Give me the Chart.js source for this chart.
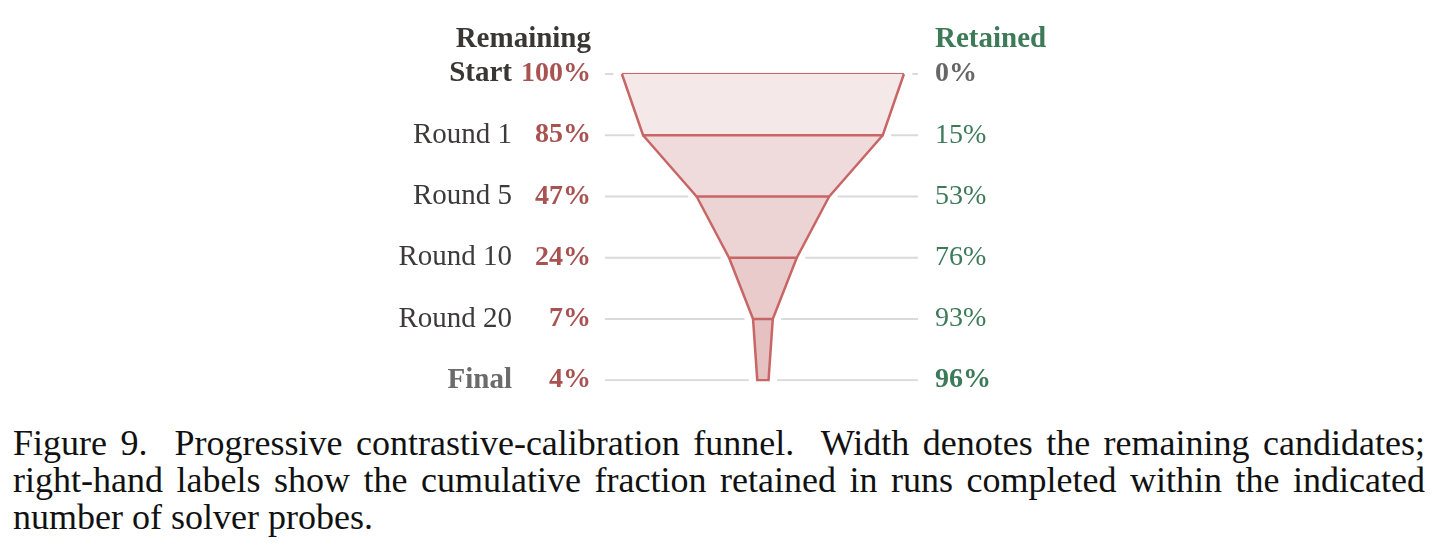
<!DOCTYPE html>
<html>
<head>
    <title>Contrastive-calibration funnel</title>
    <script src="https://cdn.jsdelivr.net/npm/chart.js"></script>
    <style>
        body {
            margin: 0;
            background: #ffffff;
            width: 1446px;
            height: 555px;
            overflow: hidden;
        }
        #wrap {
            position: relative;
            width: 1446px;
            height: 414px;
        }
        .caption {
            margin: 11px 0 0 13px;
            width: 1412px;
            font-family: "Liberation Serif", serif;
            font-size: 36px;
            line-height: 37px;
            color: #111111;
        }
        .caption .jl {
            text-align: justify;
            text-align-last: justify;
            white-space: nowrap;
        }
    </style>
</head>
<body>
    <div id="wrap"><canvas id="funnelChart"></canvas></div>
    <div class="caption">
        <div class="jl">Figure 9.&nbsp; Progressive contrastive-calibration funnel.&nbsp; Width denotes the remaining candidates;</div>
        <div class="jl">right-hand labels show the cumulative fraction retained in runs completed within the indicated</div>
        <div>number of solver probes.</div>
    </div>

    <script>
        // data
        var stages = ['Start', 'Round 1', 'Round 5', 'Round 10', 'Round 20', 'Final'];
        var remaining = [100, 85, 47, 24, 7, 4];
        var retained = [0, 15, 53, 76, 93, 96];
        var remainingLabels = remaining.map(v => v + '%');
        var retainedLabels = retained.map(v => v + '%');

        var serif = '"Liberation Serif", "Times New Roman", serif';
        var red = '#a85252';
        var green = '#3d7a58';
        var stroke = '#c86565';
        var segFills = ['#f4e8e8', '#f0dbdc', '#ecd3d4', '#e9cbcc', '#e6c1c2'];
        var gridColor = '#dadada';
        var xMin = -112, xMax = 110, gap = 6;

        var datasets = [];

        // funnel segments, one trapezoid between each pair of stages
        for (var i = 0; i < stages.length - 1; i++) {
            datasets.push({
                data: [
                    { x: -remaining[i], y: stages[i] },
                    { x: -remaining[i + 1], y: stages[i + 1] },
                    { x: remaining[i + 1], y: stages[i + 1] },
                    { x: remaining[i], y: stages[i] }
                ],
                showLine: true,
                fill: 'shape',
                backgroundColor: segFills[i],
                borderColor: stroke,
                borderWidth: 2.5,
                pointRadius: 0
            });
        }
        // top edge of the first segment
        datasets.push({
            data: [{ x: -remaining[0], y: stages[0] }, { x: remaining[0], y: stages[0] }],
            showLine: true,
            borderColor: stroke,
            borderWidth: 2.5,
            pointRadius: 0
        });
        // guide lines on either side of the funnel
        stages.forEach(function (s, k) {
            datasets.push({
                data: [{ x: xMin, y: s }, { x: -remaining[k] - gap, y: s }],
                showLine: true, borderColor: gridColor, borderWidth: 2, pointRadius: 0
            });
            datasets.push({
                data: [{ x: remaining[k] + gap, y: s }, { x: xMax, y: s }],
                showLine: true, borderColor: gridColor, borderWidth: 2, pointRadius: 0
            });
        });

        var headers = {
            id: 'headers',
            afterDraw(chart) {
                var c = chart.ctx;
                var top = chart.chartArea.top - 27;
                c.save();
                c.font = 'bold 29px ' + serif;
                c.textBaseline = 'alphabetic';
                c.textAlign = 'right';
                c.fillStyle = '#3b3636';
                c.fillText('Remaining', chart.scales.yPct.right - 14, top);
                c.textAlign = 'left';
                c.fillStyle = green;
                c.fillText('Retained', chart.scales.yRet.left + 17, top);
                c.restore();
            }
        };

        var ctx = document.getElementById('funnelChart').getContext('2d');
        var funnelChart = new Chart(ctx, {
            type: 'scatter',
            data: { datasets: datasets },
            plugins: [headers],
            options: {
                responsive: true,
                maintainAspectRatio: false,
                animation: false,
                events: [],
                layout: { padding: { top: 74, bottom: 7, left: 318, right: 328 } },
                plugins: { legend: { display: false }, tooltip: { enabled: false } },
                scales: {
                    x: { type: 'linear', display: false, min: xMin, max: xMax },
                    y: {
                        type: 'category',
                        labels: stages,
                        position: 'left',
                        weight: 2,
                        grid: { display: false, drawTicks: false },
                        border: { display: false },
                        afterFit(scale) { scale.width = 200; },
                        ticks: {
                            autoSkip: false,
                            padding: 6,
                            font: function (c) {
                                var last = c.index === 0 || c.index === stages.length - 1;
                                return { family: serif, size: 29, weight: last ? 'bold' : 'normal' };
                            },
                            color: function (c) {
                                if (c.index === stages.length - 1) return '#6b6b6b';
                                return c.index === 0 ? '#3b3636' : '#3d3a3a';
                            }
                        }
                    },
                    yPct: {
                        type: 'category',
                        labels: remainingLabels,
                        position: 'left',
                        weight: 1,
                        grid: { display: false, drawTicks: false },
                        border: { display: false },
                        afterFit(scale) { scale.width = 87; },
                        ticks: {
                            autoSkip: false,
                            padding: 14,
                            font: { family: serif, size: 28, weight: 'bold' },
                            color: red
                        }
                    },
                    yRet: {
                        type: 'category',
                        labels: retainedLabels,
                        position: 'right',
                        grid: { display: false, drawTicks: false },
                        border: { display: false },
                        afterFit(scale) { scale.width = 200; },
                        ticks: {
                            autoSkip: false,
                            padding: 17,
                            font: function (c) {
                                var b = c.index === 0 || c.index === retained.length - 1;
                                return { family: serif, size: 28, weight: b ? 'bold' : 'normal' };
                            },
                            color: function (c) {
                                return c.index === 0 ? '#666666' : green;
                            }
                        }
                    }
                }
            }
        });
    </script>
</body>
</html>
